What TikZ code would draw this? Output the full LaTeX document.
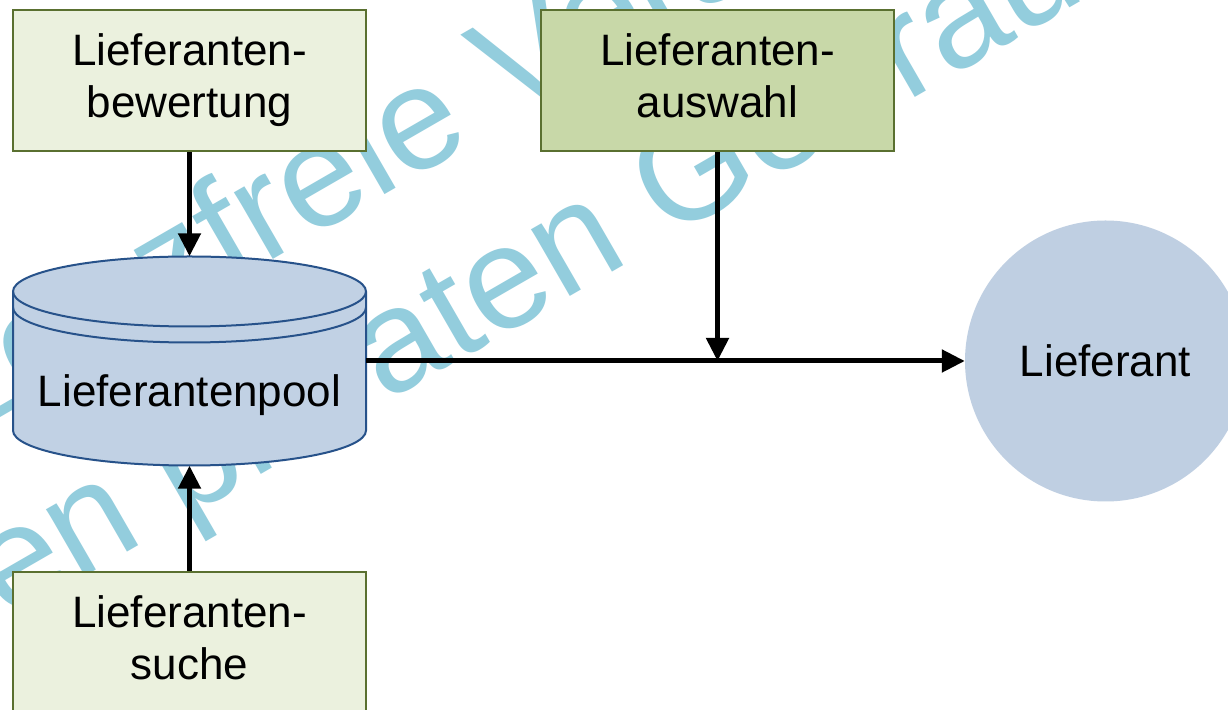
\documentclass[tikz,border=0pt]{standalone}
\usepackage{fontspec}
\setmainfont{Liberation Sans}
\usetikzlibrary{arrows.meta,calc}
\definecolor{boxlight}{HTML}{EBF1DE}
\definecolor{boxmid}{HTML}{C8D8A8}
\definecolor{boxline}{HTML}{5A7030}
\definecolor{poolfill}{HTML}{C1D1E4}
\definecolor{poolline}{HTML}{27528A}
\definecolor{suppfill}{HTML}{BFCFE2}
\definecolor{wmark}{HTML}{93CDDD}

\begin{document}
\begin{tikzpicture}[x=1pt,y=1pt,
  every node/.style={font=\fontsize{44}{52}\selectfont, text=black},
  taskbox/.style={draw=boxline, line width=2.5pt, minimum width=353pt,
    minimum height=141pt, inner sep=0pt, align=center},
  flow/.style={line width=5pt, -{Triangle[length=23pt,width=22pt]}},
  wmtext/.style={text=wmark, font=\fontsize{146}{170}\selectfont,
    rotate=30, anchor=base west, inner sep=0pt},
  poolstroke/.style={draw=poolline, line width=2pt}
]
\useasboundingbox (0,0) rectangle (1228,709);
\clip (0,0) rectangle (1228,709);
\fill[white] (0,0) rectangle (1228,709);

% watermark lettering in the background
\node[wmtext] (wm1) at (-136.5,213) {Lizenzfreie Version};
\node[wmtext] (wm2) at (-63.8,46.4) {den privaten Gebrauch};

% process boxes
\node[taskbox, fill=boxlight] (bew) at (189.5,628.5) {Lieferanten-\\bewertung};
\node[taskbox, fill=boxmid] (aus) at (717.5,628.5) {Lieferanten-\\auswahl\vphantom{g}};
\node[taskbox, fill=boxlight] (such) at (189.5,66.5) {Lieferanten-\\suche\vphantom{g}};

% supplier pool drawn as a database cylinder
\node[minimum width=353pt, minimum height=209pt, inner sep=0pt] (pool) at (189.5,348) {};
\path[fill=poolfill, poolstroke]
  (13,417.5) -- (13,278.5)
  arc[start angle=180, end angle=360, x radius=176.5, y radius=35]
  -- (366,417.5)
  arc[start angle=0, end angle=180, x radius=176.5, y radius=35] -- cycle;
\draw[poolstroke] (13,417.5)
  arc[start angle=180, end angle=360, x radius=176.5, y radius=35];
\draw[poolstroke] (13,401.5)
  arc[start angle=180, end angle=360, x radius=176.5, y radius=35];
\node[anchor=base, inner sep=0pt] (pooltext) at (189.5,302) {Lieferantenpool};

% supplier
\node[circle, fill=suppfill, minimum size=281pt, inner sep=0pt] (lief) at (1105.5,348) {Lieferant};

% flows
\coordinate (join) at (aus.south |- pool.east);
\draw[flow] (bew.south) -- (pool.north);
\draw[flow] (such.north) -- (pool.south);
\draw[flow] (pool.east) -- (lief.west);
\draw[flow] (aus.south) -- (join);
\end{tikzpicture}
\end{document}
